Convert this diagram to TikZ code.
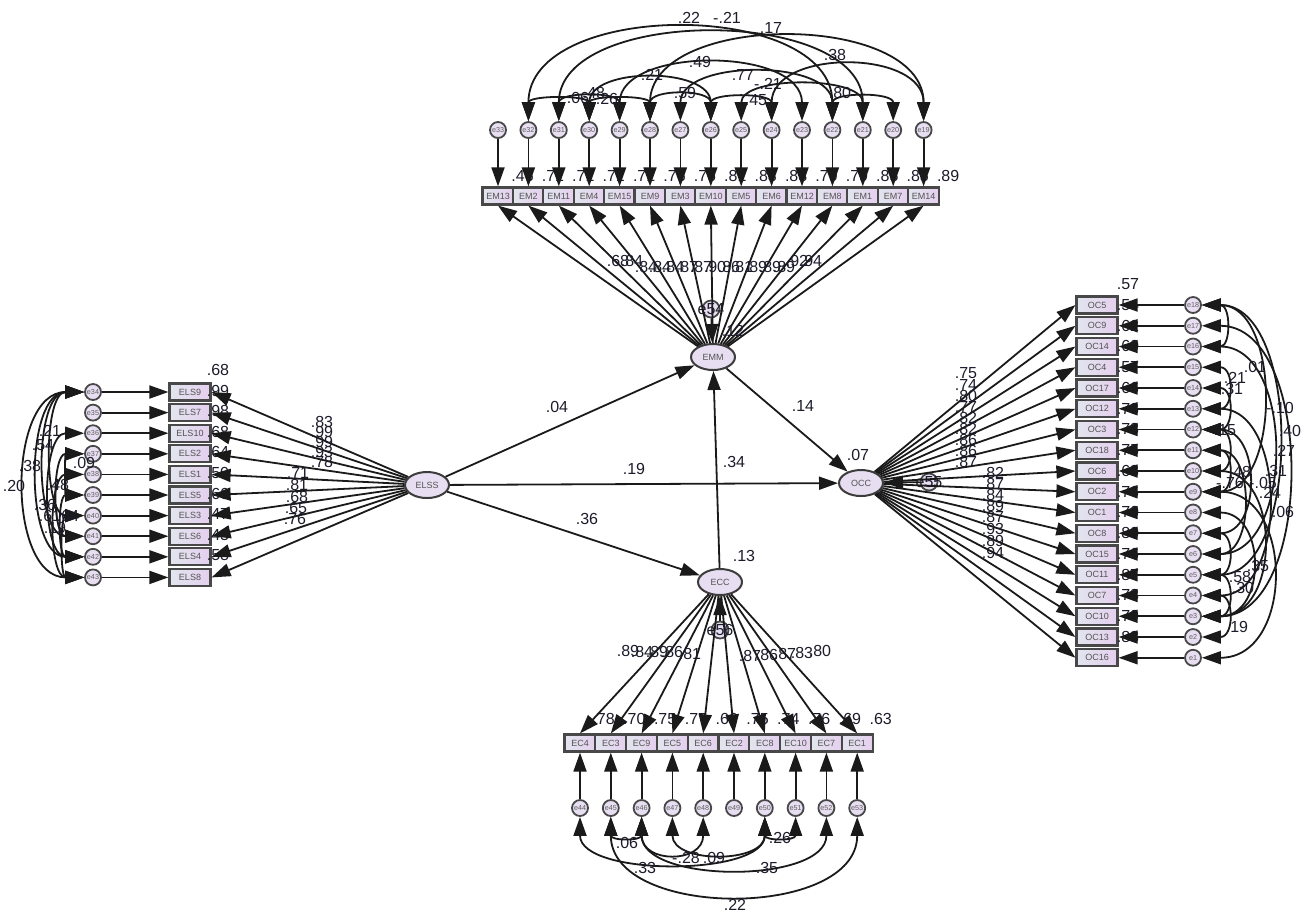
\documentclass[tikz,border=0pt]{standalone}
\usepackage{fontspec}
\setmainfont{Liberation Sans}
\usepackage{tikz}
\usetikzlibrary{arrows.meta,positioning,shapes.geometric}
\definecolor{ink}{HTML}{1A1A1A}
\definecolor{numink}{HTML}{1C1C2C}
\definecolor{boxleft}{HTML}{E2E5EE}
\definecolor{boxright}{HTML}{E4CFEE}
\definecolor{lavender}{HTML}{E8DEF2}
\tikzset{
  amos/.tip={Triangle[length=9.5pt,width=6.5pt]},
  load/.style={-amos,line width=0.9pt,draw=ink},
  covar/.style={amos-amos,line width=0.9pt,draw=ink},
  obsbox/.style={draw=ink!80,line width=1.1pt,left color=boxleft,right color=boxright,
    inner sep=0,minimum height=8.5pt,font=\fontsize{4.5}{5}\selectfont,text=ink!75},
  errc/.style={circle,draw=ink!80,line width=0.9pt,fill=lavender,minimum size=8pt,
    inner sep=0,font=\fontsize{3.6}{4}\selectfont,text=ink!70},
  latent/.style={ellipse,draw=ink!85,line width=1pt,fill=lavender,minimum width=22pt,
    minimum height=13pt,inner sep=0,font=\fontsize{4.5}{5}\selectfont,text=ink!75},
  num/.style={font=\fontsize{8}{9}\selectfont,text=numink,inner sep=0},
  dist/.style={circle,draw=ink!80,line width=0.9pt,fill=lavender,minimum size=8.5pt,inner sep=0}
}
\begin{document}
\begin{tikzpicture}[x=0.5pt,y=-0.5pt]
  \fill[white] (0,0) rectangle (1310,918);
  \useasboundingbox (0,0) rectangle (1310,918);

  % latent variables
  \node[latent] (emm) at (713,357) {EMM};
  \node[latent] (elss) at (427,485) {ELSS};
  \node[latent] (occ) at (861,483) {OCC};
  \node[latent] (ecc) at (720,582) {ECC};
  \node[dist,label={[num]center:e54}] (e54) at (711,309) {};
  \node[dist,label={[num]center:e55}] (e55) at (929,482) {};
  \node[dist,label={[num]center:e56}] (e56) at (720,630) {};

  % EM indicators (top row)
  \foreach \lab/\k/\r [count=\i] in {EM13/33/.46,EM2/32/.71,EM11/31/.71,EM4/30/.71,EM15/29/.71,
      EM9/28/.76,EM3/27/.76,EM10/26/.81,EM5/25/.83,EM6/24/.83,EM12/23/.79,EM8/22/.79,
      EM1/21/.85,EM7/20/.85,EM14/19/.89}{
    \pgfmathsetmacro\xx{498+(\i-1)*30.4}
    \node[obsbox,minimum width=15.5pt] (em\i) at (\xx,196) {\lab};
    \node[errc] (e\k) at (\xx,130) {e\k};
    \node[num,anchor=west] (rem\i) at (\xx+13,176) {\r};
  }
  % ELS indicators (left column)
  \foreach \lab/\k/\r [count=\i] in {ELS9/34/.68,ELS7/35/.99,ELS10/36/.98,ELS2/37/.68,ELS1/38/.64,
      ELS5/39/.50,ELS3/40/.66,ELS6/41/.47,ELS4/42/.43,ELS8/43/.58}{
    \pgfmathsetmacro\yy{392+(\i-1)*20.6}
    \node[obsbox,minimum width=20.5pt] (els\i) at (190,\yy) {\lab};
    \node[errc] (e\k) at (93,\yy) {e\k};
    \node[num] (rels\i) at (218,\yy-22) {\r};
  }
  % OC indicators (right column)
  \foreach \lab/\k/\r [count=\i] in {OC5/18/.57,OC9/17/.54,OC14/16/.62,OC4/15/.60,OC17/14/.57,
      OC12/13/.66,OC3/12/.73,OC18/11/.73,OC6/10/.75,OC2/9/.68,OC1/8/.76,OC8/7/.70,
      OC15/6/.80,OC11/5/.76,OC7/4/.87,OC10/3/.73,OC13/2/.79,OC16/1/.88}{
    \pgfmathsetmacro\yy{305+(\i-1)*20.75}
    \node[obsbox,minimum width=20.5pt] (oc\i) at (1097,\yy) {\lab};
    \node[errc] (e\k) at (1193,\yy) {e\k};
    \node[num] (roc\i) at (1128,\yy-21) {\r};
  }
  % EC indicators (bottom row)
  \foreach \lab/\k/\r [count=\i] in {EC4/44/.78,EC3/45/.70,EC9/46/.75,EC5/47/.77,EC6/48/.66,
      EC2/49/.75,EC8/50/.74,EC10/51/.76,EC7/52/.69,EC1/53/.63}{
    \pgfmathsetmacro\xx{580+(\i-1)*30.8}
    \node[obsbox,minimum width=15.5pt] (ec\i) at (\xx,743) {\lab};
    \node[errc] (e\k) at (\xx,808) {e\k};
    \node[num,anchor=west] (rec\i) at (\xx+12,719) {\r};
  }

  % loadings and error paths
  \foreach \k [count=\i] in {33,32,...,19}{
    \draw[load] (e\k) -- (em\i);
    \draw[load] (emm) -- (em\i.south);
  }
  \foreach \k [count=\i] in {34,...,43}{
    \draw[load] (e\k) -- (els\i);
    \draw[load] (elss) -- (els\i.east);
  }
  \foreach \k [count=\i] in {18,17,...,1}{
    \draw[load] (e\k) -- (oc\i);
    \draw[load] (occ) -- (oc\i.west);
  }
  \foreach \k [count=\i] in {44,...,53}{
    \draw[load] (e\k) -- (ec\i);
    \draw[load] (ecc) -- (ec\i.north);
  }

  % structural paths
  \draw[load] (e54) -- (emm);
  \draw[load] (e55) -- (occ);
  \draw[load] (e56) -- (ecc);
  \draw[load] (elss) -- (emm);
  \draw[load] (elss) -- (occ);
  \draw[load] (elss) -- (ecc);
  \draw[load] (emm) -- (occ);
  \draw[load] (ecc) -- (emm);
  \node[num] (b1) at (557,407) {.04};
  \node[num] (b2) at (634,469) {.19};
  \node[num] (b3) at (587,519) {.36};
  \node[num] (b4) at (803,406) {.14};
  \node[num] (b5) at (734,462) {.34};
  \node[num] (r1) at (733,331) {.12};
  \node[num] (r2) at (858,455) {.07};
  \node[num] (r3) at (744,556) {.13};

  % loading labels
  \foreach \v/\px/\py [count=\i] in {.68/618/261,.84/632/261,.84/646/267,.84/660/267,.84/673/267,
      .87/687/267,.87/701/267,.90/715/267,.86/729/267,.81/742/267,.89/756/267,.89/770/267,
      .89/784/267,.92/797/261,.94/811/261}
    \node[num] (lem\i) at (\px,\py) {\v};
  \foreach \v/\px/\py [count=\i] in {.83/322/422,.99/322/432,.99/322/442,.93/322/452,.78/322/462,
      .71/298/473,.81/297/485,.68/297/497,.65/296/508,.76/295/519}
    \node[num] (lels\i) at (\px,\py) {\v};
  \foreach \v/\px/\py [count=\i] in {.75/966/373,.74/966/385,.80/966/396,.77/966/407,.82/966/418,
      .82/966/429,.86/966/440,.86/966/451,.87/966/462,.82/993/473,.87/993/484,.84/993/495,
      .89/993/506,.87/993/517,.93/993/529,.89/993/541,.94/993/553}
    \node[num] (loc\i) at (\px,\py) {\v};
  \foreach \v/\px/\py [count=\i] in {.89/628/651,.84/642/652,.89/657/652,.86/672/652,.81/690/654,
      .87/750/656,.86/767/655,.87/785/654,.83/802/653,.80/820/651}
    \node[num] (lec\i) at (\px,\py) {\v};

  % error covariances, EM
  \foreach \a/\b/\L in {32/22/1.03,31/21/0.97,28/19/1.03,29/23/1.05,24/19/1.22,30/26/1.15,
      27/22/1.05,25/21/0.96,22/20/1.23,31/29/1.25,32/30/1.1,30/28/1.1,28/26/1.36,26/24/1.2}
    \draw[covar] (e\a.north) to[out=90,in=90,looseness=\L] (e\b.north);
  \foreach \v/\px/\py [count=\i] in {.22/689/18,-.21/727/18,.17/771/28,.49/700/62,.38/835/55,
      .21/652/75,.77/743/75,-.21/768/84,.80/840/93,.48/594/93,.06/578/98,.26/607/99,
      .59/685/93,.45/756/100}
    \node[num] (cem\i) at (\px,\py) {\v};

  % error covariances, ELS
  \foreach \a/\b/\L in {34/43/1.07,34/42/0.93,34/41/0.9,34/40/0.85,37/41/1.0,36/42/0.9,
      38/43/0.9,39/42/1.1,37/39/1.2,40/43/1.0}
    \draw[covar] (e\a.west) to[out=180,in=180,looseness=\L] (e\b.west);
  \foreach \v/\px/\py [count=\i] in {.20/14/486,.38/30/466,.54/43/445,.21/50/431,.48/58/485,
      .36/45/505,.61/50/516,.19/55/528,.09/84/463,.64/68/516}
    \node[num] (cels\i) at (\px,\py) {\v};

  % error covariances, OC
  \foreach \a/\b/\L in {18/16/1.8,18/9/1.09,18/5/0.95,17/3/1.0,16/6/1.15,15/13/2.0,14/12/2.0,
      13/4/1.18,12/10/2.0,12/7/1.47,11/9/2.0,11/6/1.3,10/3/1.4,9/1/1.43,8/3/1.6,7/5/2.0,
      5/3/2.0,4/2/2.0}
    \draw[covar] (e\a.east) to[out=0,in=0,looseness=\L] (e\b.east);
  \foreach \v/\px/\py [count=\i] in {.01/1255/367,-.10/1280/408,.40/1290/431,.27/1284/451,
      .21/1235/378,.31/1232/389,.31/1276/471,.15/1225/430,-.05/1263/483,.48/1240/472,
      -.76/1230/483,.24/1270/493,.06/1283/512,.35/1258/566,.58/1240/577,.30/1243/588,.19/1237/627}
    \node[num] (coc\i) at (\px,\py) {\v};

  % error covariances, EC
  \foreach \a/\b/\L in {45/46/2.0,46/48/1.95,47/50/1.3,50/51/2.0,44/50/0.83,46/52/0.93,45/53/1.07}
    \draw[covar] (e\a.south) to[out=-90,in=-90,looseness=\L] (e\b.south);
  \foreach \v/\px/\py [count=\i] in {.06/627/843,-.28/686/858,.09/714/858,.26/780/838,
      .33/645/868,.35/767/868,.22/735/905}
    \node[num] (cec\i) at (\px,\py) {\v};
\end{tikzpicture}
\end{document}
